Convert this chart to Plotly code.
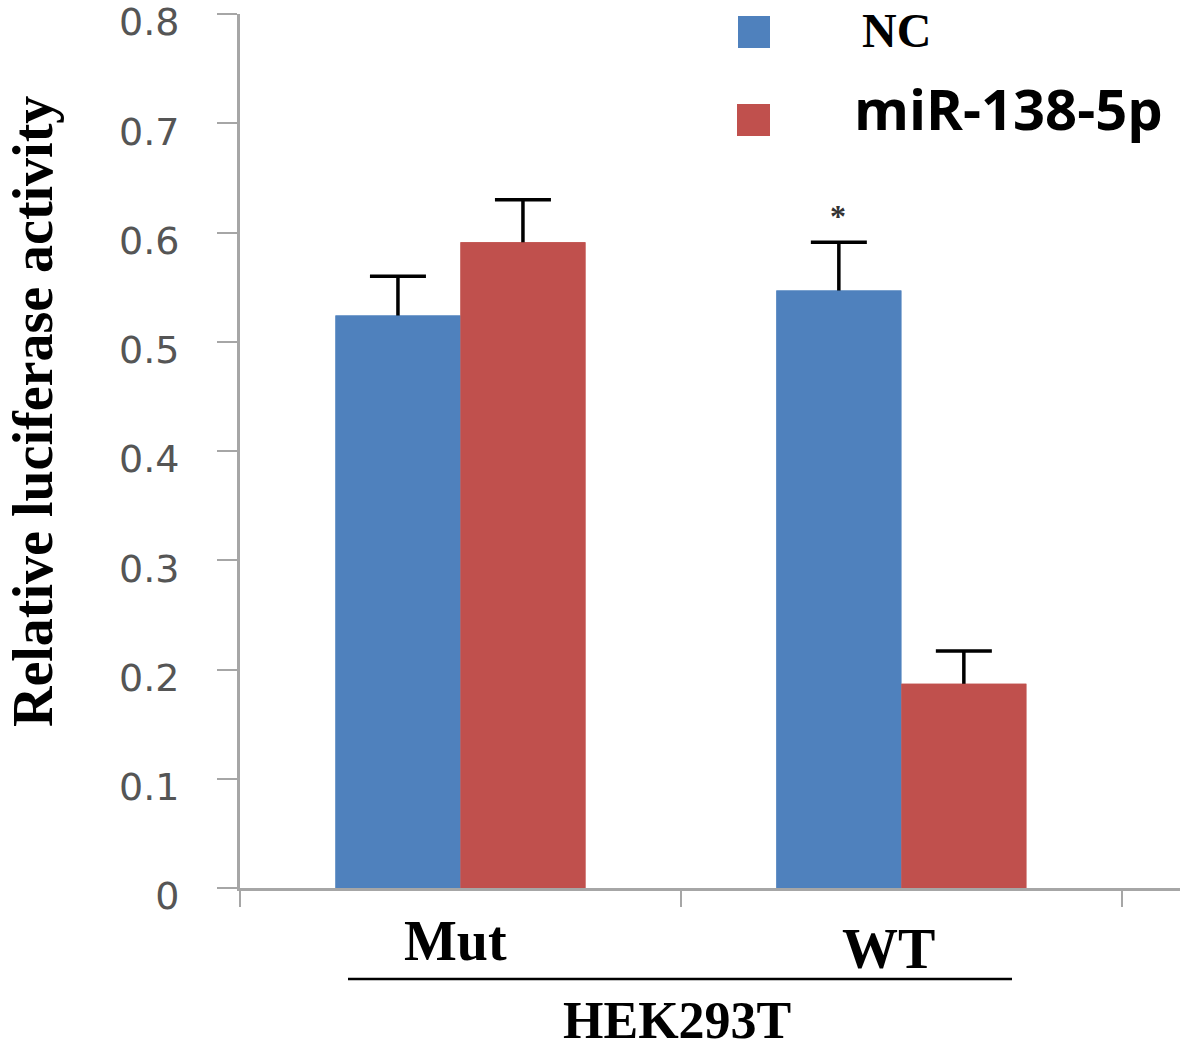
import plotly.graph_objects as go

categories = ["Mut", "WT"]
nc_values = [0.524, 0.547]
nc_err = [0.036, 0.044]
mir_values = [0.591, 0.187]
mir_err = [0.039, 0.030]
series_names = ["NC", "miR-138-5p"]
y_ticks = [0, 0.1, 0.2, 0.3, 0.4, 0.5, 0.6, 0.7, 0.8]
group_label = "HEK293T"
y_title = "Relative luciferase activity"

BLUE = "#4F81BD"
RED = "#C0504D"
AXIS = "#A6A6A6"
SERIF = "Liberation Serif"

fig = go.Figure()
# bars with error bars (lower half is hidden by the overlaid copy drawn on top)
for vals, errs, color, name, grp in [
    (nc_values, nc_err, BLUE, series_names[0], "nc"),
    (mir_values, mir_err, RED, series_names[1], "mir"),
]:
    fig.add_trace(go.Bar(
        x=categories, y=vals, name=name, marker_color=color, marker_line_width=0,
        offsetgroup=grp, showlegend=False,
        error_y=dict(type="data", array=errs, visible=True,
                     color="black", thickness=3.5, width=28),
    ))
for vals, color, name, grp in [
    (nc_values, BLUE, series_names[0], "nc"),
    (mir_values, RED, series_names[1], "mir"),
]:
    fig.add_trace(go.Bar(
        x=categories, y=vals, name=name, marker_color=color, marker_line_width=0,
        offsetgroup=grp, showlegend=False, hoverinfo="skip",
    ))

W, H = 1180, 1051
L, R, T, B = 240, 0, 14, 163
pw, ph = W - L - R, H - T - B

def px(x):
    return (x - L) / pw

def py(y):
    return (H - B - y) / ph

annotations = [
    dict(text="<b>" + y_title + "</b>", x=px(33), y=py(412), xref="paper", yref="paper",
         textangle=-90, showarrow=False,
         font=dict(family=SERIF, size=56, color="black"), xanchor="center", yanchor="middle"),
    dict(text="<b>Mut</b>", x=px(455), y=py(941), xref="paper", yref="paper", showarrow=False,
         font=dict(family=SERIF, size=56, color="black"), xanchor="center", yanchor="middle"),
    dict(text="<b>WT</b>", x=px(888), y=py(949), xref="paper", yref="paper", showarrow=False,
         font=dict(family=SERIF, size=56, color="black"), xanchor="center", yanchor="middle"),
    dict(text="<b>" + group_label + "</b>", x=px(677), y=py(1020), xref="paper", yref="paper",
         showarrow=False, font=dict(family=SERIF, size=52, color="black"),
         xanchor="center", yanchor="middle"),
    dict(text="<b>" + series_names[0] + "</b>", x=px(860), y=py(30), xref="paper", yref="paper",
         showarrow=False, font=dict(family=SERIF, size=48, color="black"),
         xanchor="left", yanchor="middle"),
    dict(text="<b>" + series_names[1] + "</b>", x=px(852), y=py(108), xref="paper", yref="paper",
         showarrow=False, font=dict(family="Open Sans", size=56, color="black"),
         xanchor="left", yanchor="middle"),
    dict(text="<b>*</b>", x=categories[1], y=nc_values[1] + nc_err[1], xref="x", yref="y",
         xshift=-63, yshift=6, showarrow=False,
         font=dict(family=SERIF, size=32, color="#333"), xanchor="center", yanchor="bottom"),
]

shapes = [
    dict(type="rect", xref="paper", yref="paper", x0=px(738), x1=px(770), y0=py(48), y1=py(16),
         fillcolor=BLUE, line=dict(width=0)),
    dict(type="rect", xref="paper", yref="paper", x0=px(737), x1=px(770), y0=py(136), y1=py(104),
         fillcolor=RED, line=dict(width=0)),
    dict(type="line", xref="paper", yref="paper", x0=px(348), x1=px(1012), y0=py(979), y1=py(979),
         line=dict(color="black", width=2.5)),
]

fig.update_layout(
    width=W, height=H,
    margin=dict(l=L, r=R, t=T, b=B, pad=0, autoexpand=False),
    paper_bgcolor="white", plot_bgcolor="white",
    barmode="group", bargap=0.433, bargroupgap=0,
    annotations=annotations, shapes=shapes,
    showlegend=False,
)
fig.update_xaxes(
    type="category", range=[-0.5, 1.632], showgrid=False, zeroline=False,
    showline=True, linecolor=AXIS, linewidth=3, automargin=False,
    ticks="outside", tickson="boundaries", ticklen=16, tickwidth=2, tickcolor=AXIS,
    showticklabels=False,
)
fig.update_yaxes(
    range=[0, 0.8], tickvals=y_ticks, ticktext=[("%g" % v) for v in y_ticks],
    showgrid=False, zeroline=False, showline=True, linecolor=AXIS, linewidth=3,
    automargin=False,
    ticks="outside", ticklen=20, tickwidth=2, tickcolor=AXIS,
    ticklabelstandoff=30, ticklabeloverflow="allow", ticklabelshift=8,
    tickfont=dict(family="DejaVu Sans", size=38, color="#555555"),
)

fig.write_html("out.html", config={"displayModeBar": False},
               post_script="document.body.style.margin='0';")
